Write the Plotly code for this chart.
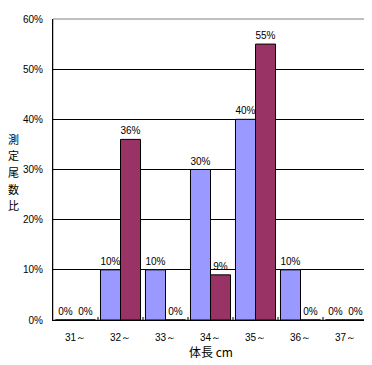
import plotly.graph_objects as go

categories = ["31～", "32～", "33～", "34～", "35～", "36～", "37～"]
series_a = [0, 10, 10, 30, 40, 10, 0]
series_b = [0, 36, 0, 9, 55, 0, 0]
y_ticks = [0, 10, 20, 30, 40, 50, 60]
y_ticklabels = [f"{v}%" for v in y_ticks]
y_title_chars = ["測", "定", "尾", "数", "比"]

FONT = "Liberation Sans, Arial, sans-serif"

fig = go.Figure()
fig.add_trace(go.Bar(
    x=categories, y=series_a,
    marker=dict(color="#9999FF", line=dict(color="black", width=1)),
    text=[f"{v}%" for v in series_a], textposition="outside",
    textfont=dict(size=10, color="black", family=FONT),
    cliponaxis=False,
))
fig.add_trace(go.Bar(
    x=categories, y=series_b,
    marker=dict(color="#993366", line=dict(color="black", width=1)),
    text=[f"{v}%" for v in series_b], textposition="outside",
    textfont=dict(size=10, color="black", family=FONT),
    cliponaxis=False,
))

PLOT_H = 301  # plot area height in px
annotations = []
# vertical (stacked) y-axis title, one character per line
for i, ch in enumerate(y_title_chars):
    ypx = 131 + i * 16.5 - 11  # px below plot top
    annotations.append(dict(
        text=ch, xref="paper", yref="paper",
        x=-0.125, y=1 - ypx / PLOT_H, xanchor="center", yanchor="middle",
        showarrow=False,
        font=dict(size=11, family="Noto Sans CJK JP"),
    ))
annotations.append(dict(
    text="体長 cm", xref="paper", yref="paper",
    x=0.5, y=-0.106, xanchor="center", yanchor="middle", showarrow=False,
    font=dict(size=12, family="Noto Sans CJK JP"),
))

# page body has an 8px margin; the figure is sized to compensate
fig.update_layout(
    width=364, height=357,
    margin=dict(l=45, r=4, t=11, b=45, autoexpand=False),
    paper_bgcolor="white", plot_bgcolor="white",
    showlegend=False,
    barmode="group", bargap=0.11, bargroupgap=0,
    font=dict(family=FONT, size=10, color="black"),
    uniformtext=dict(minsize=10, mode="show"),
    xaxis=dict(
        type="category", showgrid=False,
        showline=True, linecolor="black", linewidth=1,
        ticks="", tickfont=dict(size=10), automargin=False,
        ticklabelstandoff=8,
    ),
    yaxis=dict(
        range=[0, 60], tickvals=y_ticks, ticktext=y_ticklabels,
        showgrid=True, gridcolor="black", gridwidth=1,
        showline=True, linecolor="black", linewidth=1,
        zeroline=False, ticks="", ticklen=0,
        tickfont=dict(size=10), automargin=False,
        ticklabelstandoff=7,
    ),
    shapes=[
        dict(type="rect", xref="paper", yref="paper", x0=0, x1=1, y0=0, y1=1,
             line=dict(color="#808080", width=1), layer="below"),
    ],
    annotations=annotations,
)

# small inside ticks at category boundaries
for i in range(1, len(categories)):
    fig.add_shape(type="line", xref="x", yref="paper", x0=i - 0.5, x1=i - 0.5,
                  y0=0, y1=0.01, line=dict(color="black", width=1))

fig.write_html("out.html")
